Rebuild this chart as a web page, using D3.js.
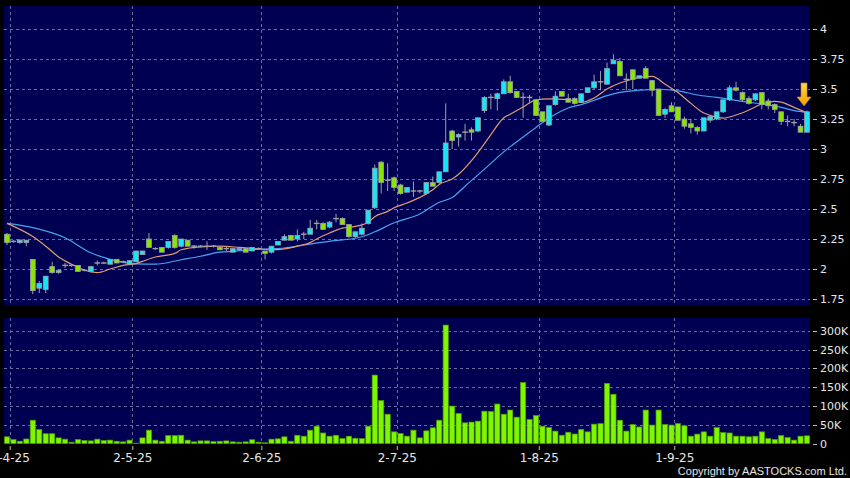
<!DOCTYPE html>
<html><head><meta charset="utf-8">
<script src="https://cdn.jsdelivr.net/npm/d3@7"></script>
<style>html,body{margin:0;padding:0;background:#000;}svg{display:block}</style>
</head><body>
<svg id="c" width="850" height="478"></svg>
<script>
// ---------- data ----------
const dates = ["31-3-25",
"1-4-25","2-4-25","3-4-25","7-4-25","8-4-25","9-4-25","10-4-25","11-4-25","14-4-25","15-4-25","16-4-25","17-4-25","22-4-25","23-4-25","24-4-25","25-4-25","28-4-25","29-4-25","30-4-25",
"2-5-25","6-5-25","7-5-25","8-5-25","9-5-25","12-5-25","13-5-25","14-5-25","15-5-25","16-5-25","19-5-25","20-5-25","21-5-25","22-5-25","23-5-25","26-5-25","27-5-25","28-5-25","29-5-25","30-5-25",
"2-6-25","3-6-25","4-6-25","5-6-25","6-6-25","9-6-25","10-6-25","11-6-25","12-6-25","13-6-25","16-6-25","17-6-25","18-6-25","19-6-25","20-6-25","23-6-25","24-6-25","25-6-25","26-6-25","27-6-25","30-6-25",
"2-7-25","3-7-25","4-7-25","7-7-25","8-7-25","9-7-25","10-7-25","11-7-25","14-7-25","15-7-25","16-7-25","17-7-25","18-7-25","21-7-25","22-7-25","23-7-25","24-7-25","25-7-25","28-7-25","29-7-25","30-7-25","31-7-25",
"1-8-25","4-8-25","5-8-25","6-8-25","7-8-25","8-8-25","11-8-25","12-8-25","13-8-25","14-8-25","15-8-25","18-8-25","19-8-25","20-8-25","21-8-25","22-8-25","25-8-25","26-8-25","27-8-25","28-8-25","29-8-25",
"1-9-25","2-9-25","3-9-25","4-9-25","5-9-25","8-9-25","9-9-25","10-9-25","11-9-25","12-9-25","15-9-25","16-9-25","17-9-25","18-9-25","19-9-25","22-9-25","23-9-25","24-9-25","25-9-25","26-9-25","29-9-25"];

const open = [2.29,2.23,2.22,2.22,2.08,1.84,1.83,2.02,1.97,2.03,2.03,2.03,1.99,1.98,2.05,2.05,2.04,2.08,2.06,2.04,
2.06,2.12,2.25,2.17,2.18,2.18,2.28,2.19,2.24,2.19,2.19,2.19,2.19,2.18,2.17,2.14,2.16,2.17,2.15,2.17,
2.15,2.14,2.20,2.24,2.28,2.25,2.29,2.29,2.38,2.38,2.35,2.42,2.42,2.37,2.27,2.29,2.38,2.51,2.89,2.74,
2.76,2.70,2.64,2.65,2.65,2.63,2.72,2.72,2.81,3.15,3.10,3.14,3.16,3.15,3.32,3.43,3.42,3.46,3.56,3.48,
3.43,3.43,3.41,3.31,3.20,3.37,3.48,3.42,3.42,3.39,3.47,3.51,3.56,3.54,3.71,3.73,3.58,3.66,3.59,3.67,
3.57,3.50,3.29,3.36,3.35,3.25,3.21,3.18,3.15,3.24,3.25,3.31,3.41,3.51,3.47,3.42,3.41,3.47,3.40,3.37,
3.31,3.23,3.22,3.19,3.14];
const high = [2.30,2.24,2.25,2.24,2.08,1.90,1.94,2.06,1.99,2.05,2.04,2.03,2.00,2.02,2.07,2.06,2.08,2.08,2.07,2.07,
2.15,2.15,2.30,2.18,2.18,2.23,2.29,2.25,2.24,2.20,2.20,2.23,2.20,2.19,2.19,2.17,2.17,2.17,2.18,2.18,
2.15,2.19,2.23,2.29,2.28,2.33,2.31,2.41,2.41,2.39,2.40,2.46,2.43,2.37,2.31,2.38,2.49,2.87,2.90,2.88,
2.77,2.71,2.68,2.73,2.66,2.72,2.77,2.81,3.38,3.16,3.13,3.21,3.18,3.26,3.44,3.46,3.47,3.58,3.61,3.48,
3.47,3.45,3.41,3.31,3.36,3.48,3.48,3.46,3.43,3.46,3.51,3.62,3.65,3.72,3.79,3.76,3.63,3.66,3.61,3.69,
3.57,3.50,3.34,3.39,3.35,3.27,3.25,3.19,3.26,3.28,3.31,3.41,3.53,3.56,3.48,3.44,3.46,3.47,3.42,3.38,
3.31,3.28,3.25,3.21,3.32];
const low = [2.20,2.22,2.21,2.19,1.79,1.80,1.80,1.96,1.96,2.01,2.02,1.98,1.98,1.97,2.03,2.04,2.04,2.05,2.05,2.04,
2.06,2.12,2.18,2.16,2.14,2.17,2.17,2.18,2.19,2.17,2.18,2.16,2.18,2.16,2.15,2.14,2.15,2.14,2.15,2.16,
2.08,2.13,2.20,2.24,2.24,2.23,2.25,2.29,2.33,2.33,2.34,2.39,2.37,2.26,2.26,2.28,2.37,2.50,2.63,2.65,
2.65,2.62,2.64,2.60,2.63,2.62,2.69,2.71,2.81,3.00,3.02,3.07,3.07,3.14,3.30,3.33,3.32,3.46,3.46,3.43,
3.26,3.38,3.28,3.23,3.19,3.36,3.44,3.39,3.37,3.39,3.47,3.50,3.49,3.54,3.71,3.61,3.49,3.50,3.59,3.59,
3.44,3.28,3.26,3.31,3.24,3.17,3.13,3.12,3.15,3.22,3.24,3.30,3.40,3.48,3.40,3.37,3.40,3.33,3.33,3.30,
3.20,3.19,3.19,3.14,3.14];
const close = [2.22,2.23,2.24,2.24,1.82,1.88,1.94,1.97,1.99,2.03,2.03,1.98,1.99,2.02,2.05,2.05,2.08,2.05,2.06,2.07,
2.15,2.15,2.18,2.17,2.14,2.23,2.18,2.25,2.19,2.19,2.19,2.19,2.19,2.16,2.17,2.17,2.17,2.14,2.18,2.17,
2.13,2.19,2.23,2.27,2.24,2.28,2.29,2.34,2.38,2.33,2.39,2.42,2.37,2.27,2.31,2.34,2.49,2.84,2.72,2.74,
2.68,2.63,2.68,2.65,2.65,2.72,2.69,2.81,3.05,3.07,3.12,3.14,3.14,3.26,3.43,3.43,3.46,3.56,3.47,3.43,
3.43,3.43,3.28,3.23,3.36,3.44,3.44,3.39,3.38,3.46,3.51,3.56,3.56,3.67,3.74,3.61,3.58,3.58,3.61,3.59,
3.49,3.28,3.33,3.31,3.24,3.19,3.18,3.15,3.26,3.27,3.31,3.41,3.51,3.49,3.41,3.38,3.46,3.37,3.36,3.33,
3.23,3.23,3.22,3.14,3.31];
const volume = [17800,10700,6000,12000,62000,37000,26000,26000,15000,11500,3500,10700,8000,7000,11500,8000,9000,6000,4400,9000,
1000,15000,35500,9000,6000,21000,21000,22000,9000,4400,7000,7000,5000,6000,7000,4400,3500,4400,10000,3500,
2000,11500,12400,17800,6000,22000,19500,35500,46000,28000,19500,22000,13000,19500,14000,13000,46000,182000,114000,78000,
31000,26600,19500,35500,15000,33700,41700,62000,315000,99500,80000,55000,57000,59500,86000,85000,105000,78000,89000,70000,
162000,64000,74600,46000,42600,33000,22000,30000,25300,37500,31000,51500,53000,160000,131000,62000,33000,50600,44000,89000,
49000,89000,50600,49000,53000,47000,19500,25000,31000,19500,42600,29000,28000,19500,19500,17800,19500,31000,13000,10700,
21000,16000,9000,19500,20400];
// moving averages: [candle index, value]
const ma10 = [[0,2.38],[4,2.27],[6,2.19],[8,2.10],[10,2.04],[12,1.99],[14,1.97],[16,2.0],[18,2.03],[20,2.045],[21,2.064],[23,2.10],[26,2.13],[27,2.16],[30,2.185],[33,2.19],[36,2.18],[39,2.167],[41,2.16],[43,2.167],[45,2.19],[47,2.22],[48,2.25],[50,2.30],[52,2.34],[54,2.355],[56,2.39],[57,2.436],[59,2.48],[60,2.51],[62,2.55],[64,2.597],[66,2.66],[67,2.705],[69,2.75],[70,2.79],[73,2.97],[75,3.12],[77,3.26],[78,3.29],[80,3.35],[82,3.41],[84,3.417],[87,3.411],[89,3.389],[91,3.425],[93,3.50],[95,3.55],[97,3.583],[98,3.597],[100,3.606],[102,3.54],[104,3.47],[106,3.38],[108,3.30],[109,3.28],[111,3.258],[113,3.283],[115,3.325],[117,3.375],[119,3.397],[120,3.39],[122,3.347],[124,3.30]];
const ma20 = [[0,2.38],[4,2.345],[9,2.26],[13,2.135],[16,2.08],[20,2.043],[23,2.04],[27,2.077],[30,2.106],[33,2.14],[35,2.147],[39,2.165],[43,2.175],[46,2.20],[50,2.231],[52,2.242],[55,2.269],[57,2.31],[60,2.385],[64,2.458],[67,2.556],[69,2.595],[71,2.69],[75,2.88],[76,2.93],[78,3.02],[80,3.10],[82,3.18],[85,3.29],[87,3.342],[89,3.37],[91,3.406],[93,3.445],[95,3.472],[98,3.49],[101,3.496],[104,3.485],[107,3.45],[110,3.43],[114,3.397],[117,3.375],[120,3.347],[122,3.32],[124,3.305]];
const priceTicks = [1.75,2,2.25,2.5,2.75,3,3.25,3.5,3.75,4];
const volTicks = [0,50000,100000,150000,200000,250000,300000];
const monthLabels = ["1-4-25","2-5-25","2-6-25","2-7-25","1-8-25","1-9-25"];
const copyright = "Copyright by AASTOCKS.com Ltd.";

// ---------- layout ----------
const P = {l:4, r:810, t:6, b:305};
const V = {t:318, b:444};
const C = {bg:"#000052", grid:"#6a6a9c", cyan:"#19e6f5", green:"#8ae600", doji:"#a0a0a0",
           edge:"#9aa0a8", vol:"#7df700", volEdge:"#4f9a00", txt:"#e6e6e6", ma10:"#e39a72", ma20:"#46a6f0"};

const svg = d3.select("#c");
svg.append("rect").attr("width",850).attr("height",478).attr("fill","#000");

const x = d3.scalePoint().domain(dates).range([7,807]);
const step = x.step();
const y = d3.scaleLinear().domain([1.75,4]).range([299,29]);
const yv = d3.scaleLinear().domain([0,300000]).range([443.5,330.7]);

// panels
svg.append("rect").attr("x",P.l).attr("y",P.t).attr("width",P.r-P.l).attr("height",P.b-P.t).attr("fill",C.bg);
svg.append("rect").attr("x",P.l).attr("y",V.t).attr("width",P.r-P.l).attr("height",V.b-V.t).attr("fill",C.bg);

const bx = d => x(d) - step/2;
// gridlines
const g = svg.append("g").attr("stroke",C.grid).attr("stroke-width",1).attr("stroke-dasharray","3,3").attr("shape-rendering","crispEdges");
g.selectAll(".hp").data(priceTicks).join("line").attr("x1",P.l).attr("x2",P.r).attr("y1",d=>Math.round(y(d))+0.5).attr("y2",d=>Math.round(y(d))+0.5);
g.selectAll(".hv").data(volTicks.filter(d=>d>0)).join("line").attr("x1",P.l).attr("x2",P.r).attr("y1",d=>Math.round(yv(d))+0.5).attr("y2",d=>Math.round(yv(d))+0.5);
g.selectAll(".vp").data(monthLabels).join("line").attr("x1",d=>bx(d)).attr("x2",d=>bx(d)).attr("y1",P.t).attr("y2",P.b);
g.selectAll(".vv").data(monthLabels).join("line").attr("x1",d=>bx(d)).attr("x2",d=>bx(d)).attr("y1",V.t).attr("y2",V.b);

// volume bars
svg.append("g").selectAll("rect").data(volume).join("rect")
  .attr("x",(d,i)=>x(dates[i])-2.6).attr("width",5.2)
  .attr("y",d=>yv(d)).attr("height",d=>Math.max(0,yv(0)-yv(d)))
  .attr("fill",C.vol).attr("stroke",C.volEdge).attr("stroke-width",0.7);

// MA lines
const line = d3.line().x(d=>x(dates[d[0]])).y(d=>y(d[1])).curve(d3.curveMonotoneX);
svg.append("path").attr("d",line(ma20)).attr("fill","none").attr("stroke",C.ma20).attr("stroke-width",1.2);
svg.append("path").attr("d",line(ma10)).attr("fill","none").attr("stroke",C.ma10).attr("stroke-width",1.2);

// candles
const cg = svg.append("g");
dates.forEach((d,i)=>{
  const cx = x(d), o=open[i], c=close[i], h=high[i], l=low[i];
  const col = c>o ? C.cyan : (c<o ? C.green : C.doji);
  cg.append("line").attr("x1",cx).attr("x2",cx).attr("y1",y(h)).attr("y2",y(l)).attr("stroke",C.doji).attr("stroke-width",1);
  if (c===o) {
    cg.append("line").attr("x1",cx-2.8).attr("x2",cx+2.8).attr("y1",y(o)).attr("y2",y(o)).attr("stroke",C.doji).attr("stroke-width",1.4);
  } else {
    const top = y(Math.max(o,c)), bot = y(Math.min(o,c));
    cg.append("rect").attr("x",cx-2.4).attr("width",4.8).attr("y",top).attr("height",Math.max(1,bot-top))
      .attr("fill",col).attr("stroke",C.edge).attr("stroke-width",0.8);
  }
});

// arrow on last candle
const ax = x(dates[dates.length-1]) - 3;
const grad = svg.append("defs").append("linearGradient").attr("id","ag").attr("x1",0).attr("x2",0).attr("y1",0).attr("y2",1);
grad.append("stop").attr("offset","0%").attr("stop-color","#ffd84a");
grad.append("stop").attr("offset","100%").attr("stop-color","#f0a000");
svg.append("path").attr("d",`M${ax-3},83 L${ax+3},83 L${ax+3},97 L${ax+7},97 L${ax},106 L${ax-7},97 L${ax-3},97 Z`)
  .attr("fill","url(#ag)").attr("stroke","#c88a00").attr("stroke-width",0.6);

// axes text
const t = svg.append("g").attr("font-family","DejaVu Sans, Verdana, sans-serif").attr("fill",C.txt);
const tk = svg.append("g").attr("stroke","#bbbbbb").attr("stroke-width",1);
priceTicks.forEach(v=>{
  tk.append("line").attr("x1",813).attr("x2",817).attr("y1",Math.round(y(v))+0.5).attr("y2",Math.round(y(v))+0.5);
  t.append("text").attr("x",820).attr("y",y(v)+4).attr("font-size",11).text(d3.format("")(v));
});
volTicks.forEach(v=>{
  tk.append("line").attr("x1",813).attr("x2",817).attr("y1",Math.round(yv(v))+0.5).attr("y2",Math.round(yv(v))+0.5);
  t.append("text").attr("x",820).attr("y",yv(v)+4).attr("font-size",11).text(v===0?"0":(v/1000)+"K");
});
monthLabels.forEach(m=>{
  tk.append("line").attr("x1",bx(m)).attr("x2",bx(m)).attr("y1",446).attr("y2",450);
  t.append("text").attr("x",bx(m)).attr("y",462).attr("font-size",12).attr("text-anchor","middle").text(m);
});
svg.append("text").attr("x",847).attr("y",475).attr("text-anchor","end")
  .attr("font-family","Liberation Sans, Arial, sans-serif").attr("font-size",11).attr("fill",C.txt).text(copyright);
</script>
</body></html>
